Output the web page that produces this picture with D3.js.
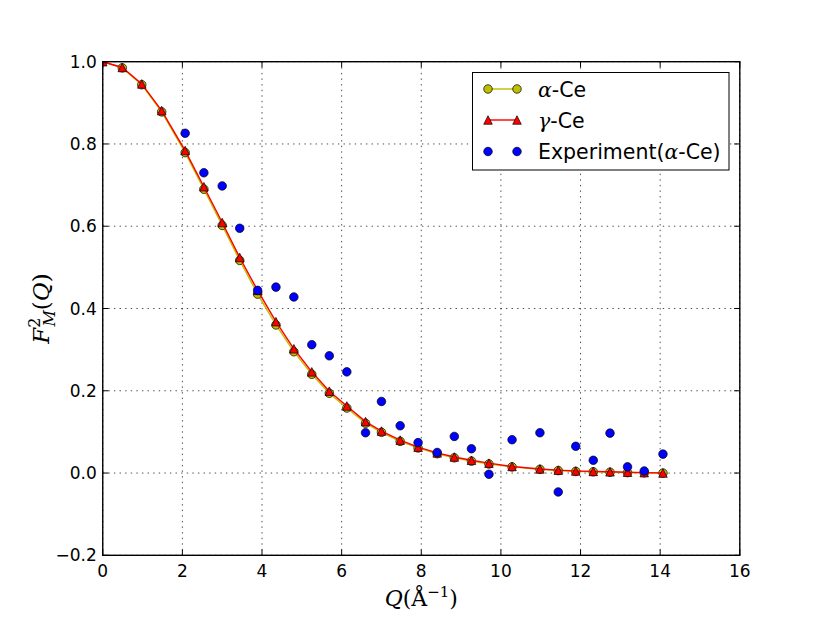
<!DOCTYPE html>
<html>
<head>
<meta charset="utf-8">
<script src="https://cdn.jsdelivr.net/npm/d3@7/dist/d3.min.js"></script>
<style>
  body { margin: 0; background: #fff; }
  text { font-family: "DejaVu Sans", sans-serif; }
</style>
</head>
<body>
<svg id="chart"></svg>
<script>
// Q values (1/Angstrom) of the calculated curves
const qTheory = [0, 0.49, 0.98, 1.48, 2.07, 2.54, 3.0, 3.44, 3.89, 4.35, 4.80, 5.25, 5.69, 6.13, 6.6,
  7.0, 7.47, 7.92, 8.4, 8.83, 9.26, 9.7, 10.28, 10.98, 11.44, 11.88, 12.32, 12.74, 13.18, 13.6, 14.07];
const alphaCe = [1.0, 0.985, 0.944, 0.878, 0.779, 0.690, 0.602, 0.517, 0.435, 0.360, 0.295, 0.240, 0.194, 0.158, 0.121,
  0.099, 0.077, 0.061, 0.047, 0.037, 0.029, 0.022, 0.015, 0.009, 0.006, 0.004, 0.003, 0.002, 0.001, 0.0005, 0.0];
const gammaCe = [1.0, 0.986, 0.946, 0.881, 0.784, 0.696, 0.609, 0.524, 0.444, 0.368, 0.302, 0.246, 0.199, 0.163, 0.125,
  0.102, 0.080, 0.063, 0.049, 0.039, 0.031, 0.024, 0.016, 0.010, 0.007, 0.005, 0.004, 0.003, 0.002, 0.001, 0.0];
// experiment (alpha-Ce)
const qExp = [2.07, 2.54, 3.0, 3.44, 3.89, 4.35, 4.80, 5.25, 5.69, 6.13, 6.6, 7.0, 7.47, 7.92, 8.4, 8.83, 9.26, 9.7,
  10.28, 10.98, 11.44, 11.88, 12.32, 12.74, 13.18, 13.6, 14.07];
const expCe = [0.826, 0.73, 0.698, 0.595, 0.444, 0.452, 0.428, 0.312, 0.285, 0.246, 0.098, 0.174, 0.115, 0.074, 0.05,
  0.089, 0.059, -0.003, 0.081, 0.098, -0.046, 0.065, 0.031, 0.097, 0.015, 0.005, 0.046];
const xTicks = [0, 2, 4, 6, 8, 10, 12, 14, 16];
const yTicks = [-0.2, 0.0, 0.2, 0.4, 0.6, 0.8, 1.0];

const width = 822, height = 617;
const mLeft = 102.75, mRight = 739.8, mTop = 61.7, mBottom = 555.3;

const svg = d3.select('#chart').attr('width', width).attr('height', height);

const x = d3.scaleLinear().domain([0, 16]).range([mLeft, mRight]);
const y = d3.scaleLinear().domain([-0.2, 1.0]).range([mBottom, mTop]);

svg.append('defs').append('clipPath').attr('id', 'clip')
  .append('rect').attr('x', mLeft).attr('y', mTop).attr('width', mRight - mLeft).attr('height', mBottom - mTop);

// grid
const grid = svg.append('g');
xTicks.forEach(t => {
  grid.append('line').attr('x1', x(t)).attr('x2', x(t)).attr('y1', mTop).attr('y2', mBottom)
    .attr('stroke', '#000').attr('stroke-width', 0.7).attr('stroke-dasharray', '1.4,4.2');
});
yTicks.forEach(t => {
  grid.append('line').attr('x1', mLeft).attr('x2', mRight).attr('y1', y(t)).attr('y2', y(t))
    .attr('stroke', '#000').attr('stroke-width', 0.7).attr('stroke-dasharray', '1.4,4.2');
});

const plot = svg.append('g').attr('clip-path', 'url(#clip)');
const ms = 4.28; // marker half size

function triPath(s) { return `M0,${-s}L${-s},${s}L${s},${s}Z`; }

const alphaData = qTheory.map((q, i) => [q, alphaCe[i]]);
const gammaData = qTheory.map((q, i) => [q, gammaCe[i]]);
const expData = qExp.map((q, i) => [q, expCe[i]]);
const line = d3.line().x(d => x(d[0])).y(d => y(d[1]));

// alpha-Ce
plot.append('path').attr('d', line(alphaData)).attr('fill', 'none')
  .attr('stroke', '#bfbf00').attr('stroke-width', 1.43);
plot.selectAll('.ma').data(alphaData).enter().append('circle')
  .attr('cx', d => x(d[0])).attr('cy', d => y(d[1])).attr('r', ms)
  .attr('fill', '#bfbf00').attr('stroke', '#000').attr('stroke-width', 0.7);

// gamma-Ce
plot.append('path').attr('d', line(gammaData)).attr('fill', 'none')
  .attr('stroke', '#ff0000').attr('stroke-width', 1.43);
plot.selectAll('.mg').data(gammaData).enter().append('path')
  .attr('d', triPath(ms))
  .attr('transform', d => `translate(${x(d[0])},${y(d[1])})`)
  .attr('fill', '#ff0000').attr('stroke', '#000').attr('stroke-width', 0.7);

// experiment
plot.selectAll('.me').data(expData).enter().append('circle')
  .attr('cx', d => x(d[0])).attr('cy', d => y(d[1])).attr('r', ms)
  .attr('fill', '#0000ff').attr('stroke', '#000').attr('stroke-width', 0.7);

// axes frame and ticks
svg.append('rect').attr('x', mLeft).attr('y', mTop).attr('width', mRight - mLeft).attr('height', mBottom - mTop)
  .attr('fill', 'none').attr('stroke', '#000').attr('stroke-width', 1.4);

const tk = 5.7;
xTicks.forEach(t => {
  svg.append('line').attr('x1', x(t)).attr('x2', x(t)).attr('y1', mBottom).attr('y2', mBottom - tk).attr('stroke', '#000');
  svg.append('line').attr('x1', x(t)).attr('x2', x(t)).attr('y1', mTop).attr('y2', mTop + tk).attr('stroke', '#000');
  svg.append('text').attr('x', x(t)).attr('y', mBottom + 22).attr('text-anchor', 'middle')
    .style('font-size', '17px').text(t);
});
yTicks.forEach(t => {
  svg.append('line').attr('x1', mLeft).attr('x2', mLeft + tk).attr('y1', y(t)).attr('y2', y(t)).attr('stroke', '#000');
  svg.append('line').attr('x1', mRight).attr('x2', mRight - tk).attr('y1', y(t)).attr('y2', y(t)).attr('stroke', '#000');
  svg.append('text').attr('x', mLeft - 6).attr('y', y(t) + 6).attr('text-anchor', 'end')
    .style('font-size', '17px').text(t < 0 ? '\u2212' + Math.abs(t).toFixed(1) : t.toFixed(1));
});

// axis labels
const serif = '"DejaVu Serif", serif';
const xl = svg.append('text').attr('x', (mLeft + mRight) / 2).attr('y', 606).attr('text-anchor', 'middle')
  .style('font-family', serif).style('font-size', '22px');
xl.append('tspan').style('font-style', 'italic').text('Q');
xl.append('tspan').text('(\u00c5');
xl.append('tspan').attr('dy', -9).style('font-size', '15px').text('\u22121');
xl.append('tspan').attr('dy', 9).text(')');

const yl = svg.append('text').attr('transform', `translate(49,${(mTop + mBottom) / 2}) rotate(-90)`)
  .attr('text-anchor', 'middle').style('font-family', serif).style('font-size', '23px');
yl.append('tspan').style('font-style', 'italic').text('F');
yl.append('tspan').attr('dy', -9).style('font-size', '16px').text('2');
yl.append('tspan').attr('dx', -9).attr('dy', 15).style('font-size', '16px').style('font-style', 'italic').text('M');
yl.append('tspan').attr('dy', -6).text('(');
yl.append('tspan').style('font-style', 'italic').text('Q');
yl.append('tspan').text(')');

// legend
const lg = svg.append('g');
lg.append('rect').attr('x', 472.5).attr('y', 72.5).attr('width', 256.5).attr('height', 97.5)
  .attr('fill', '#fff').attr('stroke', '#000').attr('stroke-width', 1);
const legendItems = [
  { greek: '\u03b1', rest: '-Ce', kind: 'alpha' },
  { greek: '\u03b3', rest: '-Ce', kind: 'gamma' },
  { greek: null, rest: 'Experiment(', kind: 'exp' }
];
const lx0 = 488, lx1 = 517, rowY = [89, 120, 151.5];
legendItems.forEach((it, i) => {
  const yy = rowY[i];
  if (it.kind === 'alpha') {
    lg.append('line').attr('x1', lx0).attr('x2', lx1).attr('y1', yy).attr('y2', yy).attr('stroke', '#bfbf00').attr('stroke-width', 1.43);
    [lx0, lx1].forEach(px => lg.append('circle').attr('cx', px).attr('cy', yy).attr('r', ms)
      .attr('fill', '#bfbf00').attr('stroke', '#000').attr('stroke-width', 0.7));
  } else if (it.kind === 'gamma') {
    lg.append('line').attr('x1', lx0).attr('x2', lx1).attr('y1', yy).attr('y2', yy).attr('stroke', '#ff0000').attr('stroke-width', 1.43);
    [lx0, lx1].forEach(px => lg.append('path').attr('d', triPath(ms)).attr('transform', `translate(${px},${yy})`)
      .attr('fill', '#ff0000').attr('stroke', '#000').attr('stroke-width', 0.7));
  } else {
    [lx0, lx1].forEach(px => lg.append('circle').attr('cx', px).attr('cy', yy).attr('r', ms)
      .attr('fill', '#0000ff').attr('stroke', '#000').attr('stroke-width', 0.7));
  }
  const t = lg.append('text').attr('x', 538).attr('y', yy + 7.5).style('font-size', '20.5px');
  if (it.greek) {
    t.append('tspan').style('font-family', serif).style('font-style', 'italic').text(it.greek);
    t.append('tspan').text(it.rest);
  } else {
    t.append('tspan').text(it.rest);
    t.append('tspan').style('font-family', serif).style('font-style', 'italic').text('\u03b1');
    t.append('tspan').text('-Ce)');
  }
});
</script>
</body>
</html>
